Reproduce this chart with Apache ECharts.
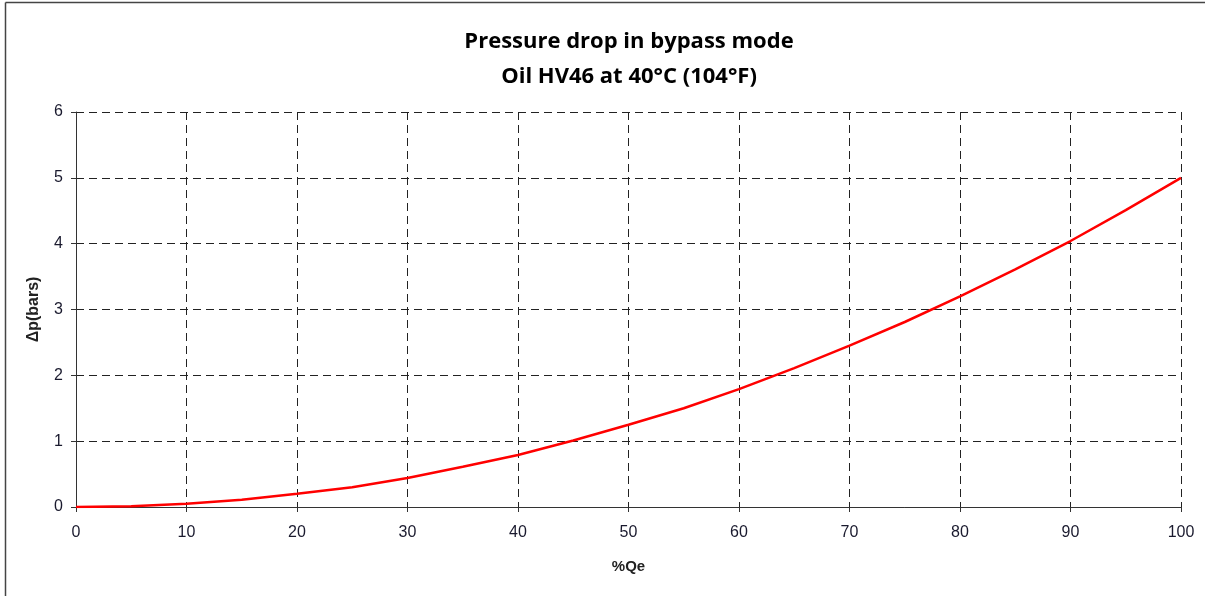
<!DOCTYPE html>
<html>
<head>
<meta charset="utf-8">
<script src="https://cdn.jsdelivr.net/npm/echarts@6/dist/echarts.min.js"></script>
<style>html,body{margin:0;padding:0;background:#fff}#c{width:1205px;height:596px}</style>
</head>
<body>
<div id="c"></div>
<script>
const titleLines = ['Pressure drop in bypass mode', 'Oil HV46 at 40°C (104°F)'];
const xName = '%Qe';
const yName = 'Δp(bars)';
const flowPct = [0, 5, 10, 15, 20, 25, 30, 35, 40, 45, 50, 55, 60, 65, 70, 75, 80, 85, 90, 95, 100];
const deltaP = [0, 0.012, 0.05, 0.11, 0.2, 0.30, 0.44, 0.61, 0.79, 1.01, 1.25, 1.50, 1.79, 2.11, 2.45, 2.81, 3.2, 3.61, 4.04, 4.51, 5.0];

const chart = echarts.init(document.getElementById('c'));
const gridLine = {show: true, lineStyle: {color: '#222', width: 1, type: [8, 5]}};
chart.setOption({
  animation: false,
  title: {
    text: titleLines.join('\n'),
    left: 624, top: 19, textAlign: 'center',
    textStyle: {fontFamily: 'Open Sans', fontWeight: 'bold', fontSize: 22, color: '#000', lineHeight: 35}
  },
  graphic: [
    {type: 'line', shape: {x1: 5.5, y1: 2.5, x2: 5.5, y2: 596}, style: {stroke: '#444', lineWidth: 1.5}},
    {type: 'line', shape: {x1: 5.5, y1: 2.5, x2: 1205, y2: 2.5}, style: {stroke: '#444', lineWidth: 1.5}}
  ],
  grid: {left: 76, right: 24, top: 112, bottom: 89},
  xAxis: {
    type: 'value', min: 0, max: 100, interval: 10,
    name: xName, nameLocation: 'middle', nameGap: 52,
    nameTextStyle: {fontFamily: 'Liberation Sans', fontWeight: 'bold', fontSize: 15, color: '#222'},
    axisLine: {show: true, lineStyle: {color: '#333', width: 1}},
    axisTick: {show: true, length: 5, lineStyle: {color: '#333'}},
    axisLabel: {fontFamily: 'Liberation Sans', fontSize: 16, color: '#1a1a2e', margin: 18},
    splitLine: gridLine
  },
  yAxis: {
    type: 'value', min: 0, max: 6, interval: 1,
    name: yName, nameLocation: 'middle', nameGap: 34, nameRotate: 90,
    nameTextStyle: {fontFamily: 'Liberation Sans', fontWeight: 'bold', fontSize: 16, color: '#222'},
    axisLine: {show: true, lineStyle: {color: '#333', width: 1}},
    axisTick: {show: true, length: 5, lineStyle: {color: '#333'}},
    axisLabel: {fontFamily: 'Liberation Sans', fontSize: 16, color: '#1a1a2e', margin: 13},
    splitLine: gridLine
  },
  series: [{
    type: 'line',
    data: flowPct.map((x, i) => [x, deltaP[i]]),
    showSymbol: false,
    lineStyle: {color: '#ff0000', width: 2.5},
    z: 5
  }]
});
</script>
</body>
</html>
